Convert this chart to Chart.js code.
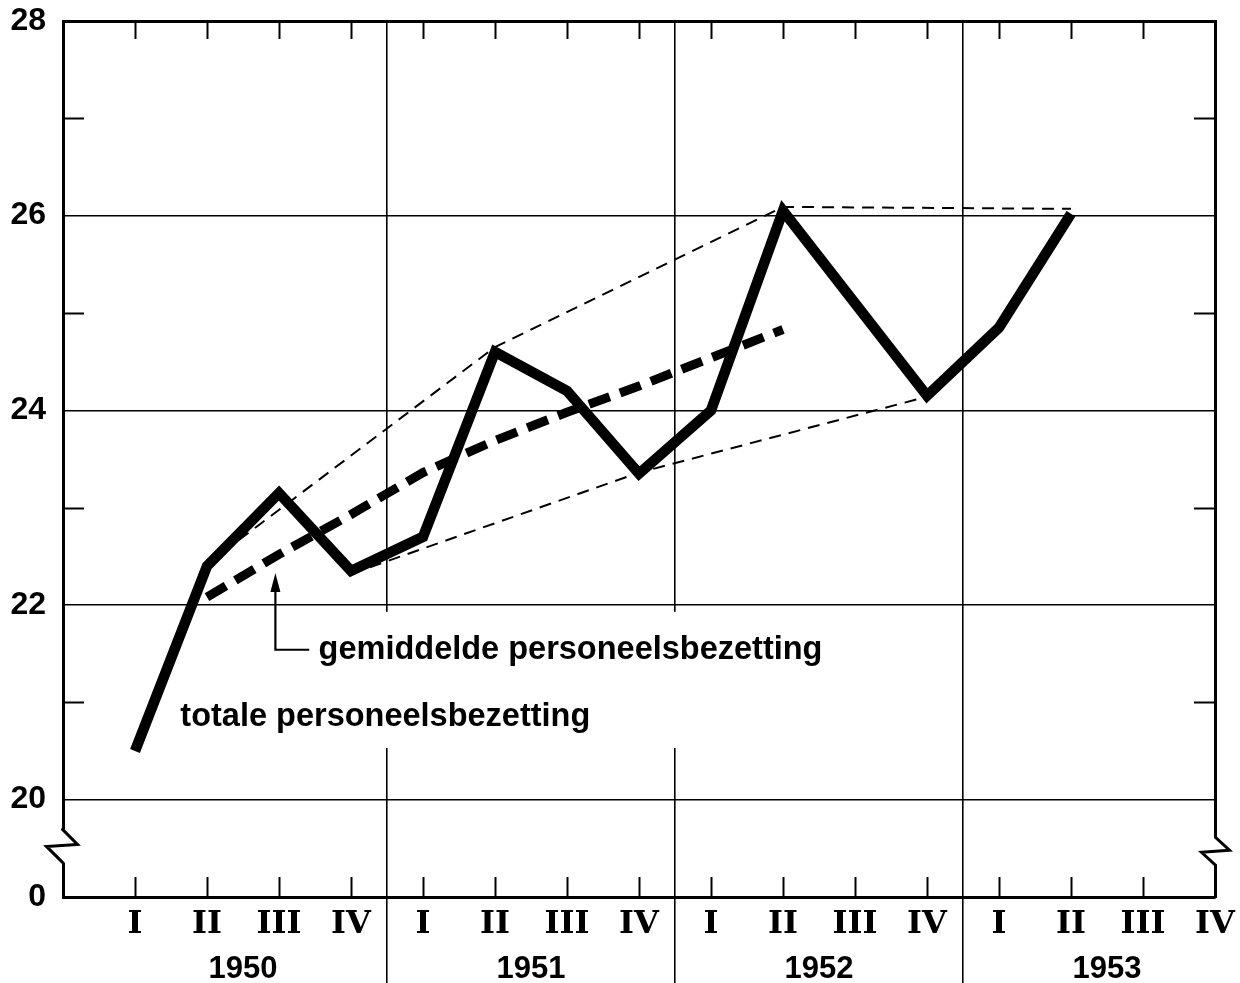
<!DOCTYPE html>
<html>
<head>
<meta charset="utf-8">
<script src="https://cdn.jsdelivr.net/npm/chart.js@4/dist/chart.umd.min.js"></script>
<style>
html,body{margin:0;padding:0;background:#fff;}
#wrap{width:1240px;height:983px;position:relative;}
canvas{display:block;}
</style>
</head>
<body>
<div id="wrap"><canvas id="c" width="1240" height="983"></canvas></div>
<script>
// ---------- data ----------
const quarterLabels = ['I','II','III','IV','I','II','III','IV','I','II','III','IV','I','II','III','IV'];
const quarterPos = [1,2,3,4,5,6,7,8,9,10,11,12,13,14,15,16];
const years = ['1950','1951','1952','1953'];
const yearCenters = [2.5, 6.5, 10.5, 14.5];
const yearDividers = [4.5, 8.5, 12.5];

const totaleQuarters = [1,2,3,4,5,6,7,8,9,10,11,12,13,14];
const totaleValues   = [20.5, 22.4, 23.15, 22.35, 22.7, 24.6, 24.2, 23.35, 24.0, 26.05, 25.1, 24.15, 24.85, 26.02];

const gemiddeldeQuarters = [2,3,4,5,6,7,8,9,10];
const gemiddeldeValues   = [22.08, 22.52, 22.93, 23.36, 23.69, 23.98, 24.25, 24.54, 24.83];

const upperQuarters = [2, 6, 10, 14];
const upperValues   = [22.42, 24.65, 26.09, 26.07];
const lowerQuarters = [4, 8, 12];
const lowerValues   = [22.32, 23.36, 24.14];

const yLabelValues = [19, 20, 22, 24, 26, 28];
const yLabelTexts  = ['0', '20', '22', '24', '26', '28'];
const yGridValues  = [20, 22, 24, 26];
const yMinorValues = [21, 23, 25, 27];

const labelGemiddelde = 'gemiddelde personeelsbezetting';
const labelTotale = 'totale personeelsbezetting';

// ---------- helpers ----------
const pts = (qs, vs) => qs.map((q, i) => ({x: q, y: vs[i]}));
const isInt = v => Math.abs(v - Math.round(v)) < 1e-9;
const isDivider = v => yearDividers.some(d => Math.abs(d - v) < 1e-9);
const yearIndex = v => yearCenters.findIndex(c => Math.abs(c - v) < 1e-9);
const noPad = s => { s.paddingTop = 0; s.paddingBottom = 0; s.paddingLeft = 0; s.paddingRight = 0; };

const romanFont = {family: '"DejaVu Serif", serif', size: 32, weight: 'bold', lineHeight: '44px'};
const sansFont  = {family: '"Liberation Sans", Arial, sans-serif', size: 31, weight: 'bold', lineHeight: '44px'};

// ---------- decoration plugin ----------
const decor = {
  id: 'decor',
  beforeDatasetsDraw(chart, args, o) {
    const {ctx, chartArea: a, scales: {x, y}} = chart;
    ctx.save();
    // white background behind the annotation texts (interrupts the year dividers)
    ctx.fillStyle = '#fff';
    const bx1 = x.getPixelForValue(o.box[0]), bx2 = x.getPixelForValue(o.box[1]);
    const by1 = y.getPixelForValue(o.box[2]), by2 = y.getPixelForValue(o.box[3]);
    ctx.fillRect(bx1, by1, bx2 - bx1, by2 - by1);

    // inner tick marks
    ctx.strokeStyle = '#000';
    ctx.lineWidth = 2;
    ctx.beginPath();
    quarterPos.forEach(q => {
      const px = Math.round(x.getPixelForValue(q)) + 0.5;
      ctx.moveTo(px, a.top); ctx.lineTo(px, a.top + 18);
      ctx.moveTo(px, a.bottom); ctx.lineTo(px, a.bottom - 20);
    });
    yMinorValues.forEach(v => {
      const py = Math.round(y.getPixelForValue(v)) + 0.5;
      ctx.moveTo(a.left, py); ctx.lineTo(a.left + 21, py);
      ctx.moveTo(a.right, py); ctx.lineTo(a.right - 21, py);
    });
    ctx.stroke();

    // arrow pointing to the average line
    const ax = x.getPixelForValue(o.arrow.x);
    const tipY = y.getPixelForValue(o.arrow.tip);
    const cornerY = y.getPixelForValue(o.arrow.corner);
    const endX = x.getPixelForValue(o.arrow.end);
    ctx.lineWidth = 2.2;
    ctx.beginPath();
    ctx.moveTo(ax, tipY + 15);
    ctx.lineTo(ax, cornerY);
    ctx.lineTo(endX, cornerY);
    ctx.stroke();
    ctx.fillStyle = '#000';
    ctx.beginPath();
    ctx.moveTo(ax, tipY);
    ctx.lineTo(ax - 5, tipY + 19);
    ctx.lineTo(ax + 5, tipY + 19);
    ctx.closePath();
    ctx.fill();

    // annotation texts
    ctx.font = 'bold 32.5px "Liberation Sans", Arial, sans-serif';
    ctx.textAlign = 'left';
    ctx.textBaseline = 'alphabetic';
    o.texts.forEach(t => ctx.fillText(t.text, x.getPixelForValue(t.x), y.getPixelForValue(t.y)));
    ctx.restore();
  },
  afterDraw(chart, args, o) {
    const {ctx, chartArea: a, scales: {y}} = chart;
    ctx.save();
    // axis break marks (zigzags) on both vertical borders
    const zig = (bx, yc, up, dx1, dx2, down) => {
      ctx.fillStyle = '#fff';
      ctx.fillRect(bx - 3, yc - up, 6, up + down);
      ctx.strokeStyle = '#000';
      ctx.lineWidth = 3;
      ctx.lineJoin = 'miter';
      ctx.beginPath();
      ctx.moveTo(bx, yc - up - 1);
      ctx.lineTo(bx, yc - up);
      ctx.lineTo(bx + dx1, yc - 1);
      ctx.lineTo(bx + dx2, yc + 1);
      ctx.lineTo(bx, yc + down);
      ctx.lineTo(bx, yc + down + 1);
      ctx.stroke();
    };
    zig(a.left - 0.5, y.getPixelForValue(o.breakLeft), 16, 15, -16, 17);
    zig(a.right + 0.5, y.getPixelForValue(o.breakRight), 14, 14, -14, 14);
    ctx.restore();
  }
};

// ---------- chart ----------
const xTicks = [
  ...quarterPos.map(v => ({value: v})),
  ...yearCenters.map(v => ({value: v})),
  ...yearDividers.map(v => ({value: v}))
];

new Chart(document.getElementById('c'), {
  type: 'line',
  data: {
    datasets: [
      {
        label: 'totale personeelsbezetting',
        data: pts(totaleQuarters, totaleValues),
        borderColor: '#000', borderWidth: 10.5,
        borderJoinStyle: 'miter', borderCapStyle: 'butt',
        pointRadius: 0, tension: 0, fill: false, order: 1
      },
      {
        label: 'gemiddelde personeelsbezetting',
        data: pts(gemiddeldeQuarters, gemiddeldeValues),
        borderColor: '#000', borderWidth: 9, borderDash: [22, 11],
        borderCapStyle: 'butt',
        pointRadius: 0, tension: 0, fill: false, order: 2
      },
      {
        label: 'upper envelope',
        data: pts(upperQuarters, upperValues),
        borderColor: '#000', borderWidth: 2, borderDash: [12, 8],
        pointRadius: 0, tension: 0, fill: false, order: 3
      },
      {
        label: 'lower envelope',
        data: pts(lowerQuarters, lowerValues),
        borderColor: '#000', borderWidth: 2, borderDash: [12, 8],
        pointRadius: 0, tension: 0, fill: false, order: 3
      }
    ]
  },
  options: {
    responsive: false,
    animation: false,
    devicePixelRatio: 1,
    layout: {padding: 0},
    plugins: {
      legend: {display: false},
      tooltip: {enabled: false},
      decor: {
        box: [1.49, 10.7, 21.93, 20.53],
        arrow: {x: 2.95, tip: 22.33, corner: 21.54, end: 3.42},
        texts: [
          {text: labelGemiddelde, x: 3.55, y: 21.45},
          {text: labelTotale, x: 1.63, y: 20.76}
        ],
        breakLeft: 19.53,
        breakRight: 19.47
      }
    },
    scales: {
      x: {
        type: 'linear', position: 'bottom', min: 0, max: 16,
        afterBuildTicks: s => { s.ticks = xTicks.map(t => ({value: t.value})); },
        afterFit: s => { s.height = 86; noPad(s); },
        border: {display: true, color: '#000', width: 3},
        grid: {
          drawOnChartArea: true,
          color: c => isDivider(c.tick.value) ? '#000' : 'rgba(0,0,0,0)',
          lineWidth: 1.6,
          drawTicks: true,
          tickLength: 86,
          tickColor: c => isDivider(c.tick.value) ? '#000' : 'rgba(0,0,0,0)',
          tickWidth: 1.6
        },
        ticks: {
          autoSkip: false, maxRotation: 0, minRotation: 0,
          padding: -80,
          color: '#000',
          font: c => (c.tick && isInt(c.tick.value)) ? romanFont : sansFont,
          callback: v => {
            if (isInt(v) && v >= 1 && v <= 16) return quarterLabels[v - 1];
            const yi = yearIndex(v);
            if (yi >= 0) return ['', years[yi]];
            return '';
          }
        }
      },
      xt: {
        type: 'linear', position: 'top', min: 0, max: 16,
        afterFit: s => { s.height = 21; noPad(s); },
        border: {display: true, color: '#000', width: 3},
        grid: {drawOnChartArea: false, drawTicks: false},
        ticks: {display: false}
      },
      y: {
        type: 'linear', position: 'left', min: 19, max: 28,
        afterBuildTicks: s => { s.ticks = [19,20,21,22,23,24,25,26,27,28].map(v => ({value: v})); },
        afterFit: s => { s.width = 63; noPad(s); },
        border: {display: true, color: '#000', width: 3},
        grid: {
          color: c => yGridValues.includes(c.tick.value) ? '#000' : 'rgba(0,0,0,0)',
          lineWidth: 1.6,
          drawTicks: false
        },
        ticks: {
          autoSkip: false,
          padding: 17,
          color: '#000',
          font: {family: '"Liberation Sans", Arial, sans-serif', size: 32, weight: 'bold'},
          callback: v => {
            const i = yLabelValues.indexOf(v);
            return i >= 0 ? yLabelTexts[i] : '';
          }
        }
      },
      yr: {
        type: 'linear', position: 'right', min: 19, max: 28,
        afterFit: s => { s.width = 25; noPad(s); },
        border: {display: true, color: '#000', width: 3},
        grid: {drawOnChartArea: false, drawTicks: false},
        ticks: {display: false}
      }
    }
  },
  plugins: [decor]
});
</script>
</body>
</html>
